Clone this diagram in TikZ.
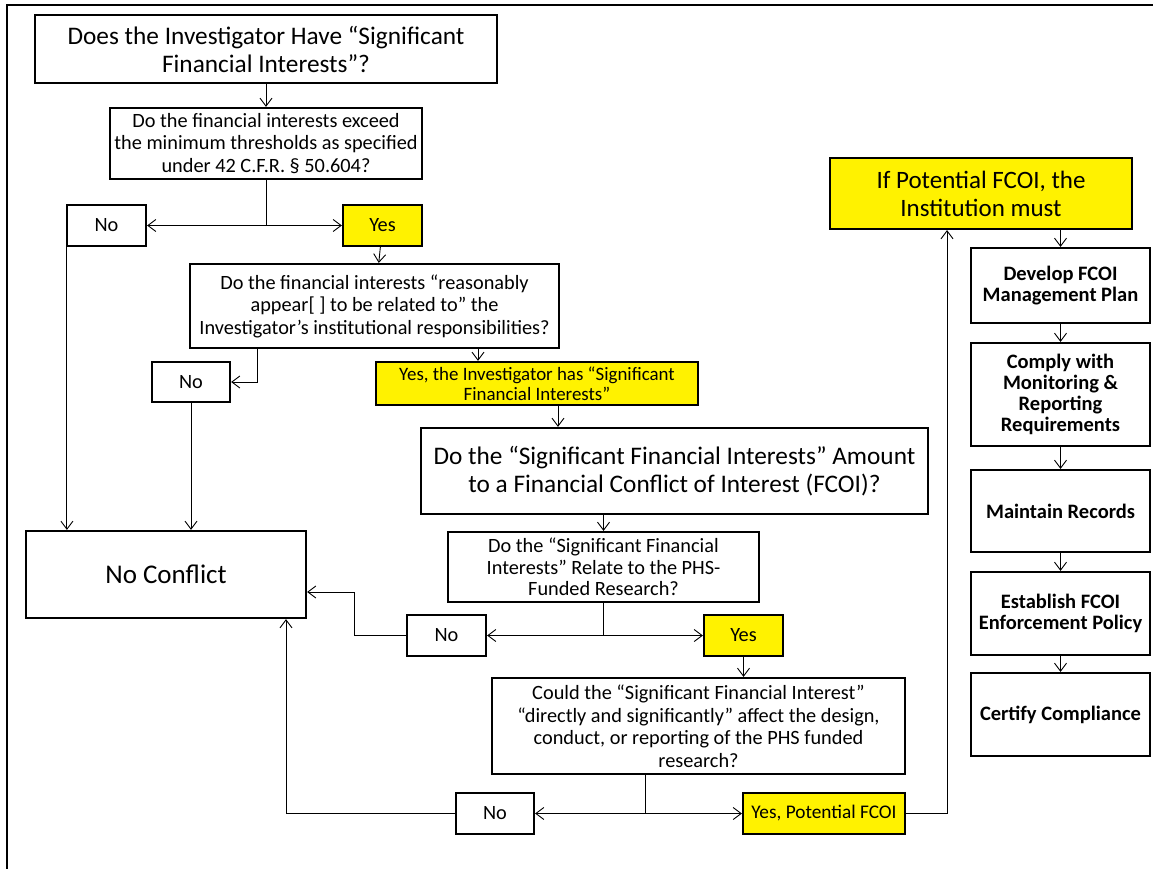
\documentclass[tikz,border=0pt]{standalone}
\usepackage{fontspec}
\setmainfont{Carlito}
\usepackage{tikz}
\usetikzlibrary{arrows.meta}

\begin{document}
\begin{tikzpicture}[x=1pt,y=-1pt,
	box/.style={draw, line width=2.2pt, align=center, inner sep=1pt, font=\fontsize{20.3}{22.5}\selectfont},
	ybox/.style={box, fill=yellow},
	bigtext/.style={font=\fontsize{25.3}{28}\selectfont},
	task/.style={box, font=\bfseries\fontsize{20.5}{21}\selectfont},
	link/.style={line width=0.9pt},
	conn/.style={link, -{Straight Barb[length=8pt,width=12pt]}}]
	\useasboundingbox (0,0) rectangle (1153,869);
	\draw[line width=2pt] (7,869) -- (7,5) -- (1153,5);

	\node[box, bigtext, minimum width=462pt, minimum height=68pt] (q1) at (266,49) {Does the Investigator Have “Significant\\Financial Interests”?};
	\node[box, minimum width=312pt, minimum height=71pt] (q2) at (266,143.5) {Do the financial interests exceed\\the minimum thresholds as specified\\under 42 C.F.R. § 50.604?};
	\node[box, minimum width=79pt, minimum height=41pt] (no1) at (106.5,225.5) {No};
	\node[ybox, minimum width=79pt, minimum height=41pt] (yes1) at (382.5,225.5) {Yes};
	\node[box, minimum width=369pt, minimum height=84pt] (q3) at (374.5,306) {Do the financial interests “reasonably\\appear[ ] to be related to” the\\Investigator’s institutional responsibilities?};
	\node[box, minimum width=78pt, minimum height=40pt] (no2) at (191,382) {No};
	\node[ybox, minimum width=322pt, minimum height=43pt, font=\fontsize{18.9}{20}\selectfont] (yes2) at (537,383.5) {Yes, the Investigator has “Significant\\Financial Interests”};
	\node[box, bigtext, minimum width=507pt, minimum height=86pt] (q4) at (674.5,471) {Do the “Significant Financial Interests” Amount\\to a Financial Conflict of Interest (FCOI)?};
	\node[box, minimum width=280pt, minimum height=87pt, font=\fontsize{27}{30}\selectfont] (noc) at (166,574.5) {No Conflict};
	\node[box, minimum width=311pt, minimum height=70pt, font=\fontsize{20.3}{21.5}\selectfont] (q5) at (603.5,567) {Do the “Significant Financial\\Interests” Relate to the PHS-\\Funded Research?};
	\node[box, minimum width=79pt, minimum height=41pt] (no3) at (446.5,635.5) {No};
	\node[ybox, minimum width=79pt, minimum height=41pt] (yes3) at (743.5,635.5) {Yes};
	\node[box, minimum width=413pt, minimum height=96pt] (q6) at (698.5,726) {Could the “Significant Financial Interest”\\“directly and significantly” affect the design,\\conduct, or reporting of the PHS funded\\research?};
	\node[box, minimum width=78pt, minimum height=41pt] (no4) at (495,813.5) {No};
	\node[ybox, minimum width=162pt, minimum height=41pt, font=\fontsize{19.3}{21}\selectfont] (yes4) at (824,813.5) {Yes, Potential FCOI};

	\node[ybox, minimum width=302pt, minimum height=71pt, font=\fontsize{25}{28}\selectfont] (inst) at (981,193.5) {If Potential FCOI, the\\Institution must};
	\node[task, minimum width=179pt, minimum height=75pt] (dev) at (1060.5,285.5) {Develop FCOI\\Management Plan};
	\node[task, minimum width=179pt, minimum height=103pt] (comply) at (1060.5,394.5) {Comply with\\Monitoring \&\\Reporting\\Requirements};
	\node[task, minimum width=179pt, minimum height=82pt] (maint) at (1060.5,511) {Maintain Records};
	\node[task, minimum width=179pt, minimum height=83pt] (estab) at (1060.5,613.5) {Establish FCOI\\Enforcement Policy};
	\node[task, minimum width=179pt, minimum height=83pt] (cert) at (1060.5,714.5) {Certify Compliance};

	\coordinate (j1) at (q2.south |- no1.east);
	\coordinate (j3) at (q5.south |- no3.east);
	\coordinate (j4) at ([xshift=-53.5pt]q6.south |- no4.east);

	\draw[conn] (q1) -- (q2);
	\draw[link] (q2.south) -- (j1);
	\draw[conn] (j1) -- (no1);
	\draw[conn] (j1) -- (yes1);
	\draw[conn] (yes1) -- (q3);
	\draw[conn] ([xshift=-117.5pt]q3.south) |- (no2);
	\draw[conn] ([xshift=-59pt]yes2.north |- q3.south) -- ([xshift=-59pt]yes2.north);
	\draw[conn] ([xshift=1pt]no1.south west) -- ([xshift=1pt]no1.south west |- noc.north);
	\draw[conn] (no2.south) -- (no2.south |- noc.north);
	\draw[conn] ([xshift=21pt]yes2.south) -- ([xshift=21pt]yes2.south |- q4.north);
	\draw[conn] (q5.north |- q4.south) -- (q5.north);
	\draw[link] (q5.south) -- (j3);
	\draw[conn] (j3) -- (no3);
	\draw[conn] (j3) -- (yes3);
	\draw[conn] (no3.west) -- ++(-51,0) |- ([yshift=-17.5pt]noc.east);
	\draw[conn] (yes3) -- (yes3 |- q6.north);
	\draw[link] (j4 |- q6.south) -- (j4);
	\draw[conn] (j4) -- (no4);
	\draw[conn] (j4) -- (yes4);
	\draw[conn] (no4.west) -| ([xshift=120pt]noc.south);
	\draw[conn] (yes4.east) -| ([xshift=-34pt]inst.south);

	\draw[conn] (dev.north |- inst.south) -- (dev.north);
	\draw[conn] (dev) -- (comply);
	\draw[conn] (comply) -- (maint);
	\draw[conn] (maint) -- (estab);
	\draw[conn] (estab) -- (cert);
\end{tikzpicture}
\end{document}
